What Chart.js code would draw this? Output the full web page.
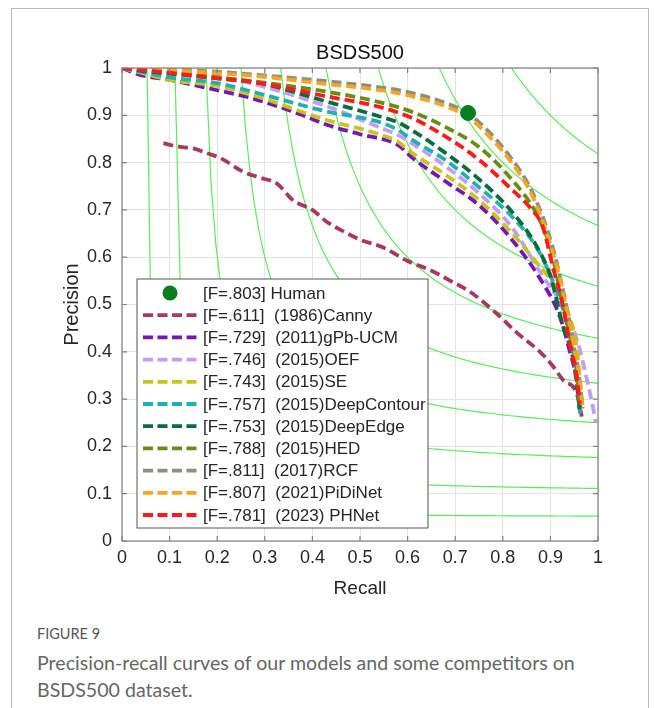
<!DOCTYPE html>
<html>
<head>
<meta charset="utf-8">
<title>BSDS500 PR curves</title>
<script src="https://cdn.jsdelivr.net/npm/chart.js@4.4.1/dist/chart.umd.min.js"></script>
<style>
  body { margin: 0; background: #fff; }
  #frame { position: absolute; left: 11px; top: 8px; width: 636px; height: 720px; border: 1px solid #b8b8b8; }
  #wrap { position: absolute; left: 0; top: 0; width: 656px; height: 600px; }
  .fig { position: absolute; left: 37px; top: 625px; font: 14.5px Lato, sans-serif; color: #555; }
  .cap { position: absolute; left: 37px; top: 649px; width: 610px; font: 19.6px/27px Lato, sans-serif; color: #666; }
</style>
</head>
<body>
<div id="frame"></div>
<div id="wrap"><canvas id="prChart" width="656" height="600"></canvas></div>
<div class="fig">FIGURE 9</div>
<div class="cap">Precision-recall curves of our models and some competitors on<br>BSDS500 dataset.</div>
<script>
// Curvas precision-recall (recall, precision)
const tickLabels = ['0', '0.1', '0.2', '0.3', '0.4', '0.5', '0.6', '0.7', '0.8', '0.9', '1'];
const isoFLevels = [0.1, 0.2, 0.3, 0.4, 0.5, 0.6, 0.7, 0.8, 0.9];

const humanR = [0.727];
const humanP = [0.905];

const cannyR = [0.087, 0.115, 0.15, 0.178, 0.206, 0.254, 0.29, 0.325, 0.36, 0.40, 0.43, 0.47, 0.50, 0.55, 0.60, 0.647, 0.69, 0.731, 0.787, 0.83, 0.878, 0.905, 0.927, 0.955, 0.966];
const cannyP = [0.841, 0.834, 0.83, 0.82, 0.81, 0.781, 0.768, 0.756, 0.72, 0.70, 0.675, 0.652, 0.637, 0.62, 0.592, 0.573, 0.55, 0.527, 0.481, 0.44, 0.40, 0.37, 0.34, 0.313, 0.263];

const gpbR = [0, 0.04, 0.10, 0.20, 0.27, 0.38, 0.43, 0.50, 0.58, 0.61, 0.68, 0.75, 0.82, 0.88, 0.92, 0.94, 0.958, 0.963];
const gpbP = [1, 0.985, 0.975, 0.953, 0.937, 0.90, 0.88, 0.86, 0.837, 0.81, 0.76, 0.71, 0.636, 0.552, 0.474, 0.404, 0.326, 0.28];

const oefR = [0, 0.05, 0.10, 0.20, 0.27, 0.43, 0.54, 0.58, 0.61, 0.68, 0.75, 0.82, 0.88, 0.93, 0.956, 0.977, 0.99, 0.995];
const oefP = [1, 0.996, 0.992, 0.982, 0.968, 0.919, 0.875, 0.858, 0.84, 0.792, 0.735, 0.662, 0.566, 0.488, 0.425, 0.34, 0.28, 0.25];

const seR = [0, 0.04, 0.10, 0.20, 0.27, 0.43, 0.54, 0.58, 0.61, 0.68, 0.75, 0.82, 0.87, 0.905, 0.94, 0.955, 0.965];
const seP = [1, 0.99, 0.975, 0.962, 0.944, 0.89, 0.86, 0.844, 0.82, 0.774, 0.721, 0.65, 0.59, 0.545, 0.474, 0.41, 0.30];

const deepContourR = [0, 0.05, 0.10, 0.20, 0.27, 0.43, 0.54, 0.58, 0.61, 0.68, 0.75, 0.82, 0.87, 0.905, 0.927, 0.945, 0.958, 0.962];
const deepContourP = [1, 0.99, 0.98, 0.968, 0.951, 0.908, 0.886, 0.869, 0.848, 0.805, 0.748, 0.685, 0.622, 0.55, 0.488, 0.41, 0.33, 0.27];

const deepEdgeR = [0, 0.05, 0.10, 0.20, 0.29, 0.43, 0.54, 0.58, 0.61, 0.68, 0.75, 0.82, 0.87, 0.90, 0.927, 0.947, 0.958, 0.962];
const deepEdgeP = [1, 0.993, 0.988, 0.978, 0.968, 0.929, 0.898, 0.885, 0.868, 0.82, 0.765, 0.695, 0.625, 0.56, 0.452, 0.389, 0.31, 0.27];

const hedR = [0, 0.05, 0.10, 0.185, 0.29, 0.43, 0.54, 0.61, 0.68, 0.75, 0.82, 0.87, 0.90, 0.92, 0.94, 0.955, 0.962];
const hedP = [1, 0.996, 0.992, 0.982, 0.97, 0.95, 0.928, 0.907, 0.875, 0.833, 0.763, 0.693, 0.62, 0.53, 0.44, 0.37, 0.28];

const rcfR = [0, 0.05, 0.10, 0.185, 0.29, 0.43, 0.55, 0.61, 0.68, 0.725, 0.77, 0.82, 0.857, 0.884, 0.905, 0.92, 0.935, 0.948, 0.96, 0.968];
const rcfP = [1, 0.999, 0.997, 0.993, 0.985, 0.972, 0.958, 0.947, 0.926, 0.905, 0.866, 0.806, 0.748, 0.685, 0.62, 0.56, 0.49, 0.42, 0.35, 0.28];

const pidiR = [0, 0.05, 0.10, 0.185, 0.29, 0.43, 0.55, 0.61, 0.68, 0.725, 0.77, 0.82, 0.857, 0.884, 0.905, 0.92, 0.935, 0.95, 0.962, 0.968];
const pidiP = [1, 0.998, 0.995, 0.99, 0.982, 0.966, 0.952, 0.94, 0.919, 0.898, 0.857, 0.798, 0.74, 0.676, 0.61, 0.555, 0.485, 0.41, 0.34, 0.28];

const phnetR = [0, 0.05, 0.10, 0.185, 0.29, 0.43, 0.54, 0.61, 0.68, 0.75, 0.82, 0.857, 0.884, 0.905, 0.927, 0.94, 0.954, 0.962];
const phnetP = [1, 0.995, 0.99, 0.98, 0.968, 0.94, 0.918, 0.894, 0.855, 0.806, 0.742, 0.705, 0.664, 0.58, 0.495, 0.42, 0.355, 0.29];

// Metodos en el orden de la leyenda
const methods = [
    { label: '[F=.611]  (1986)Canny',       r: cannyR,       p: cannyP,       color: '#a8385f' },
    { label: '[F=.729]  (2011)gPb-UCM',     r: gpbR,         p: gpbP,         color: '#7417b3' },
    { label: '[F=.746]  (2015)OEF',         r: oefR,         p: oefP,         color: '#c49cf0' },
    { label: '[F=.743]  (2015)SE',          r: seR,          p: seP,          color: '#c9c41a' },
    { label: '[F=.757]  (2015)DeepContour', r: deepContourR, p: deepContourP, color: '#1fb0b3' },
    { label: '[F=.753]  (2015)DeepEdge',    r: deepEdgeR,    p: deepEdgeP,    color: '#0b6b3c' },
    { label: '[F=.788]  (2015)HED',         r: hedR,         p: hedP,         color: '#6a8c12' },
    { label: '[F=.811]  (2017)RCF',         r: rcfR,         p: rcfP,         color: '#8e8e7a' },
    { label: '[F=.807]  (2021)PiDiNet',     r: pidiR,        p: pidiP,        color: '#f2a626' },
    { label: '[F=.781]  (2023) PHNet',      r: phnetR,       p: phnetP,       color: '#ff1a1a' }
];
const humanLabel = '[F=.803] Human';
const humanColor = '#0a7d1e';

const toPoints = (r, p) => r.map((v, i) => ({ x: v, y: p[i] }));

// Lineas iso-F (contornos de F constante) como fondo
function isoFPoints(f) {
    const pts = [];
    const r0 = f / (2 - f);
    for (let i = 0; i <= 80; i++) {
        const r = r0 + (1 - r0) * i / 80;
        pts.push({ x: r, y: f * r / (2 * r - f) });
    }
    return pts;
}

const datasets = [];
isoFLevels.forEach(f => {
    datasets.push({
        label: 'iso-F ' + f, data: isoFPoints(f), showLine: true,
        borderColor: 'rgb(90,235,90)', borderWidth: 1.2, pointRadius: 0,
        order: 100, inLegend: false
    });
});
methods.forEach((m, i) => {
    datasets.push({
        label: m.label, data: toPoints(m.r, m.p), showLine: true,
        borderColor: m.color, borderWidth: 3.8, borderDash: [10, 5],
        pointRadius: 0, cubicInterpolationMode: 'monotone',
        order: 20 - i, inLegend: true
    });
});
datasets.push({
    label: humanLabel, data: toPoints(humanR, humanP), showLine: false,
    pointRadius: 7.5, pointBackgroundColor: humanColor, pointBorderColor: humanColor,
    order: 1, inLegend: true, isMarker: true
});

const tickColor = '#262626';
const fontFam = '"Liberation Sans", Arial, sans-serif';

// Caja del eje con marcas hacia dentro y leyenda dentro del area
const boxAndLegend = {
    id: 'boxAndLegend',
    afterDatasetsDraw(chart) {
        const { ctx, chartArea: a, scales: { x, y } } = chart;
        ctx.save();
        ctx.strokeStyle = '#808080';
        ctx.lineWidth = 1.2;
        ctx.strokeRect(a.left, a.top, a.right - a.left, a.bottom - a.top);
        ctx.beginPath();
        tickLabels.forEach(t => {
            const px = x.getPixelForValue(+t);
            const py = y.getPixelForValue(+t);
            ctx.moveTo(px, a.bottom); ctx.lineTo(px, a.bottom - 5);
            ctx.moveTo(px, a.top); ctx.lineTo(px, a.top + 5);
            ctx.moveTo(a.left, py); ctx.lineTo(a.left + 5, py);
            ctx.moveTo(a.right, py); ctx.lineTo(a.right - 5, py);
        });
        ctx.stroke();

        // leyenda
        const items = chart.data.datasets.filter(d => d.inLegend);
        items.sort((d1, d2) => (d2.isMarker ? 1 : 0) - (d1.isMarker ? 1 : 0));
        const lx = a.left + 15, ly = a.top + 211, lw = 291, lh = 249, rowH = 22.2;
        ctx.fillStyle = '#fff';
        ctx.fillRect(lx, ly, lw, lh);
        ctx.strokeStyle = '#555';
        ctx.lineWidth = 1;
        ctx.strokeRect(lx, ly, lw, lh);
        ctx.font = '17px ' + fontFam;
        ctx.textBaseline = 'middle';
        items.forEach((d, i) => {
            const cy = ly + 14 + i * rowH;
            if (d.isMarker) {
                ctx.fillStyle = d.pointBackgroundColor;
                ctx.beginPath();
                ctx.arc(lx + 33, cy, 7.5, 0, Math.PI * 2);
                ctx.fill();
            } else {
                ctx.strokeStyle = d.borderColor;
                ctx.lineWidth = d.borderWidth;
                ctx.setLineDash([10, 4.5]);
                ctx.beginPath();
                ctx.moveTo(lx + 6, cy); ctx.lineTo(lx + 60, cy);
                ctx.stroke();
                ctx.setLineDash([]);
            }
            ctx.fillStyle = tickColor;
            ctx.fillText(d.label, lx + 66, cy + 1);
        });
        ctx.restore();
    }
};

new Chart(document.getElementById('prChart'), {
    type: 'scatter',
    data: { datasets: datasets },
    options: {
        responsive: false,
        animation: false,
        devicePixelRatio: 1,
        layout: { padding: { top: 41, left: 50, right: 58, bottom: 0 } },
        plugins: {
            legend: { display: false },
            tooltip: { enabled: false },
            title: {
                display: true, text: 'BSDS500', fullSize: false,
                color: '#111', font: { family: fontFam, size: 20, weight: 'normal' },
                padding: { top: 0, bottom: 3 }
            }
        },
        scales: {
            x: {
                type: 'linear', min: 0, max: 1,
                afterFit: s => { s.height = 59; },
                grid: { color: '#e3e3e3', drawTicks: false },
                border: { display: false },
                ticks: {
                    stepSize: 0.1, padding: 6, color: tickColor, maxRotation: 0,
                    font: { family: fontFam, size: 18 },
                    callback: (v, i) => tickLabels[i]
                },
                title: { display: true, text: 'Recall', color: tickColor, padding: { top: 0, bottom: 0 },
                         font: { family: fontFam, size: 19 } }
            },
            y: {
                type: 'linear', min: 0, max: 1,
                afterFit: s => { s.width = 72; },
                grid: { color: '#e3e3e3', drawTicks: false },
                border: { display: false },
                ticks: {
                    stepSize: 0.1, padding: 10, color: tickColor,
                    font: { family: fontFam, size: 18 },
                    callback: (v, i) => tickLabels[i]
                },
                title: { display: true, text: 'Precision', color: tickColor, padding: { top: 10, bottom: 0 },
                         font: { family: fontFam, size: 20 } }
            }
        }
    },
    plugins: [boxAndLegend]
});
</script>
</body>
</html>
